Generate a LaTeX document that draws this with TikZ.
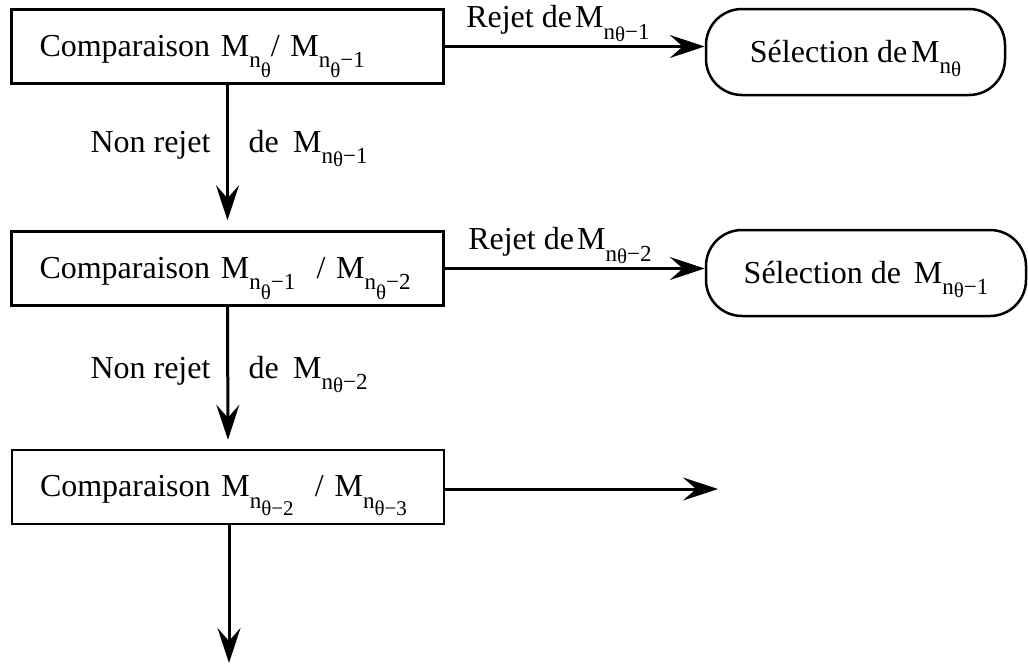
\documentclass[tikz,border=0pt]{standalone}
\usepackage{fontspec}
\setmainfont{Liberation Serif}
\usetikzlibrary{arrows.meta}

% subscript sizes
\newcommand\subA{\fontsize{23}{23}\selectfont}
\newcommand\subB{\fontsize{21}{21}\selectfont}
% M with n subscript, theta lowered below n, suffix on the n line
\newcommand\Mdeep[1]{M\raisebox{-0.36em}{\subA n\raisebox{-0.42em}{\subB θ}#1}}
% M with n subscript, theta and suffix lowered together
\newcommand\Mlow[1]{M\raisebox{-0.36em}{\subA n\raisebox{-0.32em}{\subB θ#1}}}
% M with n and theta almost on one line
\newcommand\Mflat[1]{M\raisebox{-0.36em}{\subA n\raisebox{-0.12em}{\subB θ}#1}}

\tikzset{
  every node/.style={font=\fontsize{32}{38}\selectfont},
  cmpbox/.style={draw, line width=2.5pt, minimum width=432pt, minimum height=74pt,
    text width=376pt, inner xsep=28pt, inner ysep=0pt, align=left,
    text height=22pt, text depth=3pt},
  selbox/.style={draw, line width=2.5pt, rounded corners=36pt, minimum height=86pt,
    inner sep=0pt, text height=22pt, text depth=2pt},
  flow/.style={line width=3pt, -{Stealth[length=35pt,width=23pt,inset=13pt]}},
}

\begin{document}
\begin{tikzpicture}[x=1pt,y=-1pt]
\useasboundingbox (0,0) rectangle (1028,665);

% comparison boxes
\node[cmpbox] (c1) at (227.5,46.5) {Comparaison \Mdeep{}/ \Mdeep{−1}};
\node[cmpbox] (c2) at (227.5,268.5) {Comparaison \Mdeep{−1}\ \ / \Mdeep{−2}};
\node[cmpbox] (c3) at (228,487) {Comparaison \Mlow{−2}\ \ / \Mlow{−3}};

% selection boxes
\node[selbox, minimum width=299pt] (s1) at (855.5,52) {Sélection de\hspace{0.12em}\Mflat{}};
\node[selbox, minimum width=320pt] (s2) at (866,273) {Sélection de\hspace{0.4em}\Mflat{−1}};

% free ends of the last arrows
\coordinate (e3) at (718,489);
\coordinate (e4) at (229,663);

% rejection branches
\draw[flow] (c1.east) -- (c1.east -| s1.west);
\draw[flow] (c2.east) -- (c2.east -| s2.west);
\draw[flow] ([yshift=-2pt]c3.east) -- (e3);
\path (c1.east) ++(18,-19) node[anchor=base west] (r1) {Rejet de\hspace{0.1em}\Mflat{−1}};
\path (c2.east) ++(20,-19) node[anchor=base west] (r2) {Rejet de\hspace{0.1em}\Mflat{−2}};

% non-rejection branches
\draw[flow, shorten >=10pt] (c1.south) -- (c2.north);
\draw[flow, shorten >=9pt] (c2.south) -- (c3.north);
\draw[flow] (c3.south -| e4) -- (e4);
\node[anchor=base east] (n1) at (214,152) {Non rejet};
\node[anchor=base west] (d1) at (245,152) {de\hspace{0.45em}\Mflat{−1}};
\node[anchor=base east] (n2) at (214,378) {Non rejet};
\node[anchor=base west] (d2) at (245,378) {de\hspace{0.45em}\Mflat{−2}};
\end{tikzpicture}
\end{document}
